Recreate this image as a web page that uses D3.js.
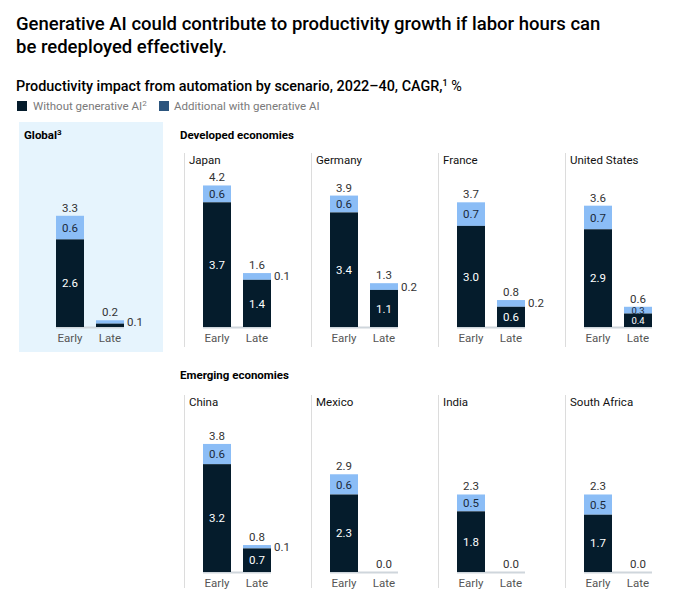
<!DOCTYPE html>
<html><head><meta charset="utf-8">
<script src="https://cdn.jsdelivr.net/npm/d3@7"></script>
<style>
html,body{margin:0;padding:0;background:#fff;}
svg{display:block;font-family:Roboto,"Liberation Sans",sans-serif;}
</style></head>
<body><svg id="c" width="675" height="605"></svg>
<script>
// ---- data ----
const scenarios = ["Early", "Late"];
const developed = ["Japan", "Germany", "France", "United States"];
const emerging = ["China", "Mexico", "India", "South Africa"];
// Global
const globalWithout = [2.6, 0.1];
const globalAdditional = [0.6, 0.1];
const globalTotal = [3.3, 0.2];
// Developed economies (Early, Late)
const devWithout = [[3.7, 1.4], [3.4, 1.1], [3.0, 0.6], [2.9, 0.4]];
const devAdditional = [[0.6, 0.1], [0.6, 0.2], [0.7, 0.2], [0.7, 0.3]];
const devTotal = [[4.2, 1.6], [3.9, 1.3], [3.7, 0.8], [3.6, 0.6]];
// Emerging economies (Early, Late)
const emgWithout = [[3.2, 0.7], [2.3, 0.0], [1.8, 0.0], [1.7, 0.0]];
const emgAdditional = [[0.6, 0.1], [0.6, 0.0], [0.5, 0.0], [0.5, 0.0]];
const emgTotal = [[3.8, 0.8], [2.9, 0.0], [2.3, 0.0], [2.3, 0.0]];
const legendLabels = ["Without generative AI", "Additional with generative AI"];

const DARK = "#051c2c", LIGHT = "#8bbdf6", LEGEND2 = "#2c557e";
const svg = d3.select("#c");
const fmt = d3.format(".1f");

// titles
const t = svg.append("text").attr("x", 16).attr("font-size", 18.5).attr("font-weight", 500).attr("fill", "#000");
t.append("tspan").attr("x", 16).attr("y", 30).text("Generative AI could contribute to productivity growth if labor hours can");
t.append("tspan").attr("x", 16).attr("y", 53).text("be redeployed effectively.");

const st = svg.append("text").attr("x", 16).attr("y", 91).attr("font-size", 14.4).attr("font-weight", 500).attr("fill", "#000");
st.append("tspan").text("Productivity impact from automation by scenario, 2022–40, CAGR,");
st.append("tspan").attr("font-size", 9).attr("dy", -5).text("1");
st.append("tspan").attr("font-weight", 400).attr("dy", 5).attr("font-size", 14.4).text(" %");

// legend
const lg = svg.append("g").attr("font-size", 11.5).attr("fill", "#7a7a7a");
lg.append("rect").attr("x", 17).attr("y", 101).attr("width", 10).attr("height", 10).attr("fill", DARK);
const l1 = lg.append("text").attr("x", 33).attr("y", 110);
l1.append("tspan").text(legendLabels[0]);
l1.append("tspan").attr("font-size", 8).attr("dy", -4).text("2");
lg.append("rect").attr("x", 159).attr("y", 101).attr("width", 10).attr("height", 10).attr("fill", LEGEND2);
lg.append("text").attr("x", 174).attr("y", 110).text(legendLabels[1]);

// global background
svg.append("rect").attr("x", 19).attr("y", 122).attr("width", 144).attr("height", 230).attr("fill", "#e6f4fd");
const gt = svg.append("text").attr("x", 24).attr("y", 139).attr("font-size", 11.5).attr("font-weight", 700).attr("fill", "#000");
gt.append("tspan").text("Global");
gt.append("tspan").attr("font-size", 8).attr("dy", -4).text("3");

svg.append("text").attr("x", 180).attr("y", 139).attr("font-size", 11.5).attr("font-weight", 700).attr("fill", "#000").text("Developed economies");
svg.append("text").attr("x", 180).attr("y", 379).attr("font-size", 11.5).attr("font-weight", 700).attr("fill", "#000").text("Emerging economies");

const PXU = 33.7;
function panel(x0, baseline, without, additional, total) {
  const x = d3.scaleBand().domain(scenarios).range([x0, x0 + 68]).paddingInner(0.3).paddingOuter(0);
  const y = d3.scaleLinear().domain([0, 4.5]).range([baseline, baseline - 4.5 * PXU]);
  const g = svg.append("g");
  g.append("line").attr("x1", x0).attr("x2", x0 + 68).attr("y1", baseline + 0.5).attr("y2", baseline + 0.5)
    .attr("stroke", "#cfd6dc").attr("stroke-width", 2);
  scenarios.forEach((s, i) => {
    const bx = x(s), bw = x.bandwidth();
    const w = without[i], tot = total[i], a = additional[i];
    if (tot > 0) {
      g.append("rect").attr("x", bx).attr("width", bw).attr("y", y(tot)).attr("height", y(w) - y(tot)).attr("fill", LIGHT);
      g.append("rect").attr("x", bx).attr("width", bw).attr("y", y(w)).attr("height", y(0) - y(w)).attr("fill", DARK);
    }
    g.append("text").attr("x", bx + bw / 2).attr("y", y(tot) - 4).attr("text-anchor", "middle")
      .attr("font-size", 11.5).attr("fill", "#333").text(fmt(tot));
    if (tot > 0) {
      const lightH = y(w) - y(tot), darkH = y(0) - y(w);
      const inside = a >= 0.3;
      if (inside) {
        const fs = lightH < 14 ? 9.5 : 11.5;
        g.append("text").attr("x", bx + bw / 2).attr("y", (y(w) + y(tot)) / 2 + fs * 0.36).attr("text-anchor", "middle")
          .attr("font-size", fs).attr("fill", "#1a2a3a").text(fmt(a));
      } else {
        g.append("text").attr("x", bx + bw + 3).attr("y", (y(w) + y(tot)) / 2 + 4)
          .attr("font-size", 11.5).attr("fill", "#333").text(fmt(a));
      }
      if (w > 0.3) {
        const fs = darkH < 14 ? 9.5 : 11.5;
        g.append("text").attr("x", bx + bw / 2).attr("y", (y(0) + y(w)) / 2 + fs * 0.36).attr("text-anchor", "middle")
          .attr("font-size", fs).attr("fill", "#fff").text(fmt(w));
      }
    }
    g.append("text").attr("x", bx + bw / 2).attr("y", baseline + 15).attr("text-anchor", "middle")
      .attr("font-size", 11.5).attr("fill", "#555").text(s);
  });
}

panel(56, 327, globalWithout, globalAdditional, globalTotal);

const cols = d3.scaleBand().domain(d3.range(4)).range([184, 184 + 127 * 4]);
developed.forEach((name, i) => {
  const lx = cols(i);
  svg.append("line").attr("x1", lx + 0.5).attr("x2", lx + 0.5).attr("y1", 153).attr("y2", 347).attr("stroke", "#dcdcdc");
  svg.append("text").attr("x", lx + 5).attr("y", 164).attr("font-size", 11.5).attr("fill", "#111").text(name);
  panel(lx + 19, 327, devWithout[i], devAdditional[i], devTotal[i]);
});
emerging.forEach((name, i) => {
  const lx = cols(i);
  svg.append("line").attr("x1", lx + 0.5).attr("x2", lx + 0.5).attr("y1", 395).attr("y2", 588).attr("stroke", "#dcdcdc");
  svg.append("text").attr("x", lx + 5).attr("y", 406).attr("font-size", 11.5).attr("fill", "#111").text(name);
  panel(lx + 19, 572, emgWithout[i], emgAdditional[i], emgTotal[i]);
});
</script></body></html>
